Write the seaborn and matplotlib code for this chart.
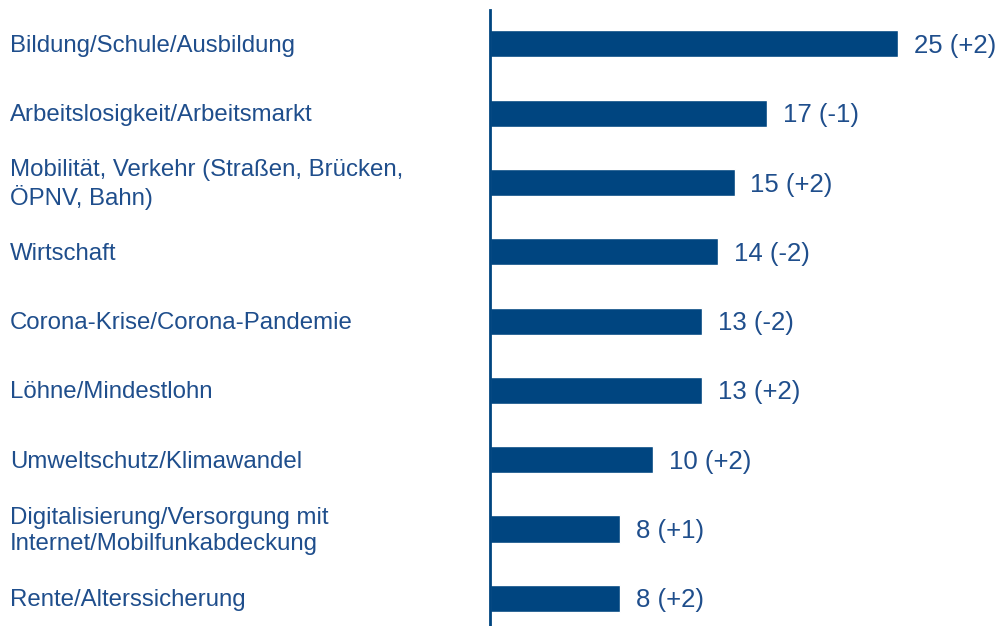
import matplotlib
matplotlib.use('Agg')
import matplotlib.pyplot as plt
import matplotlib.transforms as mtransforms
import seaborn as sns
import pandas as pd

categories = [
    "Bildung/Schule/Ausbildung",
    "Arbeitslosigkeit/Arbeitsmarkt",
    "Mobilität, Verkehr (Straßen, Brücken,\nÖPNV, Bahn)",
    "Wirtschaft",
    "Corona-Krise/Corona-Pandemie",
    "Löhne/Mindestlohn",
    "Umweltschutz/Klimawandel",
    "Digitalisierung/Versorgung mit\nInternet/Mobilfunkabdeckung",
    "Rente/Alterssicherung",
]
values = [25, 17, 15, 14, 13, 13, 10, 8, 8]
changes = ["+2", "-1", "+2", "-2", "-2", "+2", "+2", "+1", "+2"]

bar_color = "#004580"
text_color = "#1F4E8C"

sns.set_style("white")
plt.rcParams['font.family'] = ['Liberation Sans', 'DejaVu Sans']

df = pd.DataFrame({"cat": categories, "val": values})

fig = plt.figure(figsize=(10, 6.26), dpi=100)
ax = fig.add_axes([0.49, 0.0, 0.51, 0.984])
sns.barplot(data=df, x="val", y="cat", color=bar_color, width=0.39,
            saturation=1, ax=ax, orient="h")

ax.set_xlim(0, 510 / 16.3)
ax.set_ylim(8.40, -0.49)
ax.set_xlabel("")
ax.set_ylabel("")
ax.set_xticks([])
ax.set_yticks([])
for s in ["top", "right", "bottom"]:
    ax.spines[s].set_visible(False)
ax.spines["left"].set_color(bar_color)
ax.spines["left"].set_linewidth(2)

trans = mtransforms.blended_transform_factory(fig.transFigure, ax.transData)
for i, (cat, v, c) in enumerate(zip(categories, values, changes)):
    ax.text(0.01, i + 0.03, cat, transform=trans, ha="left", va="center",
            fontsize=17.3, color=text_color, linespacing=1.22)
    ax.annotate(f"{v} ({c})", xy=(v, i), xytext=(16, -2),
                textcoords="offset pixels", ha="left", va="center",
                fontsize=18.5, color=text_color)

fig.savefig("out.png", dpi=100)
